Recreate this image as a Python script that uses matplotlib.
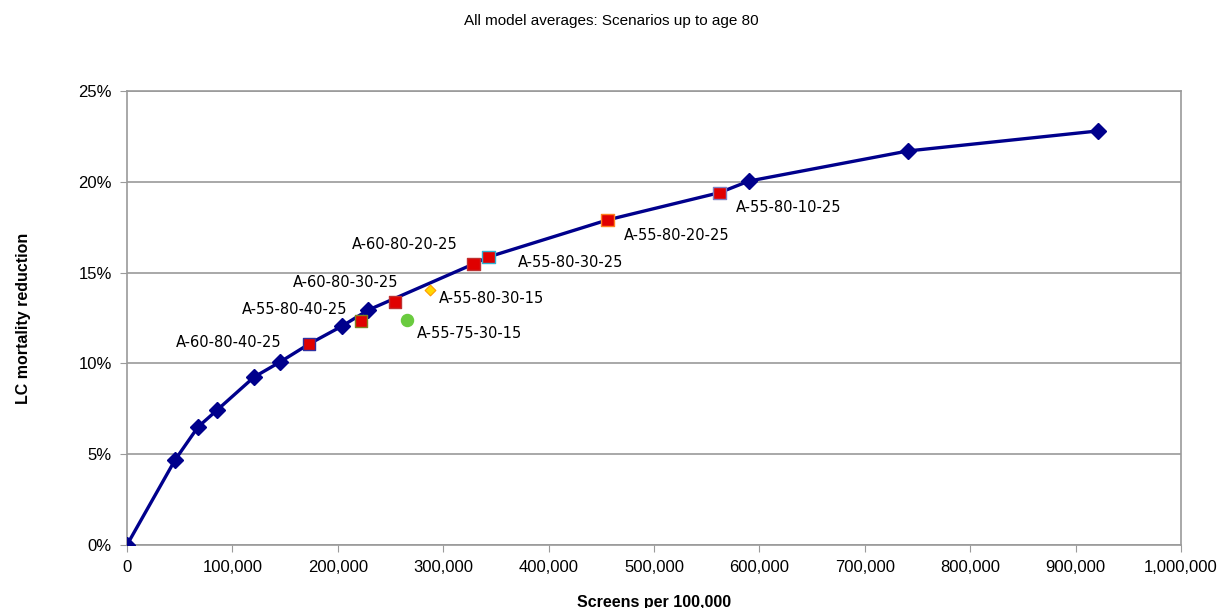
import matplotlib
matplotlib.use('Agg')
import matplotlib.pyplot as plt
from matplotlib.ticker import FuncFormatter, MultipleLocator

# main efficient-frontier curve (screens per 100,000 vs LC mortality reduction, %)
curva_x = [0, 45600, 67400, 85500, 120600, 145300, 172800, 204200, 228900,
           328600, 342800, 455800, 562000, 590000, 741000, 921000]
curva_y = [0, 4.68, 6.50, 7.43, 9.25, 10.08, 11.07, 12.06, 12.94,
           15.47, 15.86, 17.90, 19.40, 20.04, 21.70, 22.80]
# which curve points carry a visible diamond
diamante_x = [0, 45600, 67400, 85500, 120600, 145300, 204200, 228900, 590000, 741000, 921000]
diamante_y = [0, 4.68, 6.50, 7.43, 9.25, 10.08, 12.06, 12.94, 20.04, 21.70, 22.80]

# recommended scenarios (red squares)
esc_nombres = ['A-60-80-40-25', 'A-55-80-40-25', 'A-60-80-30-25', 'A-60-80-20-25',
               'A-55-80-30-25', 'A-55-80-20-25', 'A-55-80-10-25']
esc_x = [172800, 222000, 254500, 328600, 342800, 455800, 562000]
esc_y = [11.07, 12.33, 13.38, 15.47, 15.86, 17.90, 19.40]

# other scenarios
amarillo = ('A-55-80-30-15', 287700, 14.04)
verde = ('A-55-75-30-15', 265900, 12.39)

plt.rcParams['font.family'] = ['Liberation Sans', 'DejaVu Sans']

fig = plt.figure(figsize=(12.23, 6.08), dpi=100)
ax = fig.add_axes([0.1038, 0.1036, 0.9657 - 0.1038, 0.8503 - 0.1036])

azul = '#00008c'
gris = '#9a9a9a'

ax.plot(curva_x, curva_y, color=azul, lw=2.4, zorder=3, solid_joinstyle='round')
ax.plot(diamante_x, diamante_y, ls='none', marker='D', ms=8, color=azul, zorder=4)

bordes = ['#3030a0', '#808020', '#c03030', '#c03030', '#30b0d0', '#ff8020', '#8080c0']
ax.scatter(esc_x, esc_y, marker='s', s=80, c='#e00000', edgecolors=bordes,
           linewidths=1.0, zorder=5)
ax.scatter([amarillo[1]], [amarillo[2]], marker='D', s=30, c='#ffd700',
           edgecolors='#ff9900', linewidths=0.8, zorder=5)
ax.scatter([verde[1]], [verde[2]], marker='o', s=75, c='#6acb3f',
           edgecolors='#6acb3f', zorder=5)

# label placement (offsets in points from the marker)
etiquetas = [
    (esc_nombres[0], esc_x[0], esc_y[0], -20, 1, 'right'),
    (esc_nombres[1], esc_x[1], esc_y[1], -10, 8, 'right'),
    (esc_nombres[2], esc_x[2], esc_y[2], 2, 14, 'right'),
    (esc_nombres[3], esc_x[3], esc_y[3], -11, 14, 'right'),
    (esc_nombres[4], esc_x[4], esc_y[4], 21, -4, 'left'),
    (esc_nombres[5], esc_x[5], esc_y[5], 12, -11, 'left'),
    (esc_nombres[6], esc_x[6], esc_y[6], 12, -11, 'left'),
    (amarillo[0], amarillo[1], amarillo[2], 6, -6, 'left'),
    (verde[0], verde[1], verde[2], 7, -10, 'left'),
]
for txt, x, y, dx, dy, ha in etiquetas:
    ax.annotate(txt, (x, y), xytext=(dx, dy), textcoords='offset points',
                ha=ha, va='center', fontsize=10.5, family='DejaVu Sans', zorder=6)

ax.set_xlim(0, 1000000)
ax.set_ylim(0, 25)
ax.xaxis.set_major_locator(MultipleLocator(100000))
ax.yaxis.set_major_locator(MultipleLocator(5))
ax.xaxis.set_major_formatter(FuncFormatter(lambda v, p: f'{int(v):,}'))
ax.yaxis.set_major_formatter(FuncFormatter(lambda v, p: f'{int(v)}%'))
ax.tick_params(axis='both', which='major', direction='out', length=5,
               color=gris, labelsize=12, pad=6)
ax.grid(axis='y', color=gris, lw=1.2, zorder=0)
for lado in ['left', 'bottom', 'right', 'top']:
    ax.spines[lado].set_color(gris)
    ax.spines[lado].set_linewidth(1.2)

ax.set_xlabel('Screens per 100,000', fontsize=11.5, fontweight='bold', labelpad=14)
ax.set_ylabel('LC mortality reduction', fontsize=11.5, fontweight='bold', labelpad=34)
fig.text(0.5, 0.965, 'All model averages: Scenarios up to age 80', ha='center',
         va='center', fontsize=11)

fig.savefig('out.png', dpi=100)
